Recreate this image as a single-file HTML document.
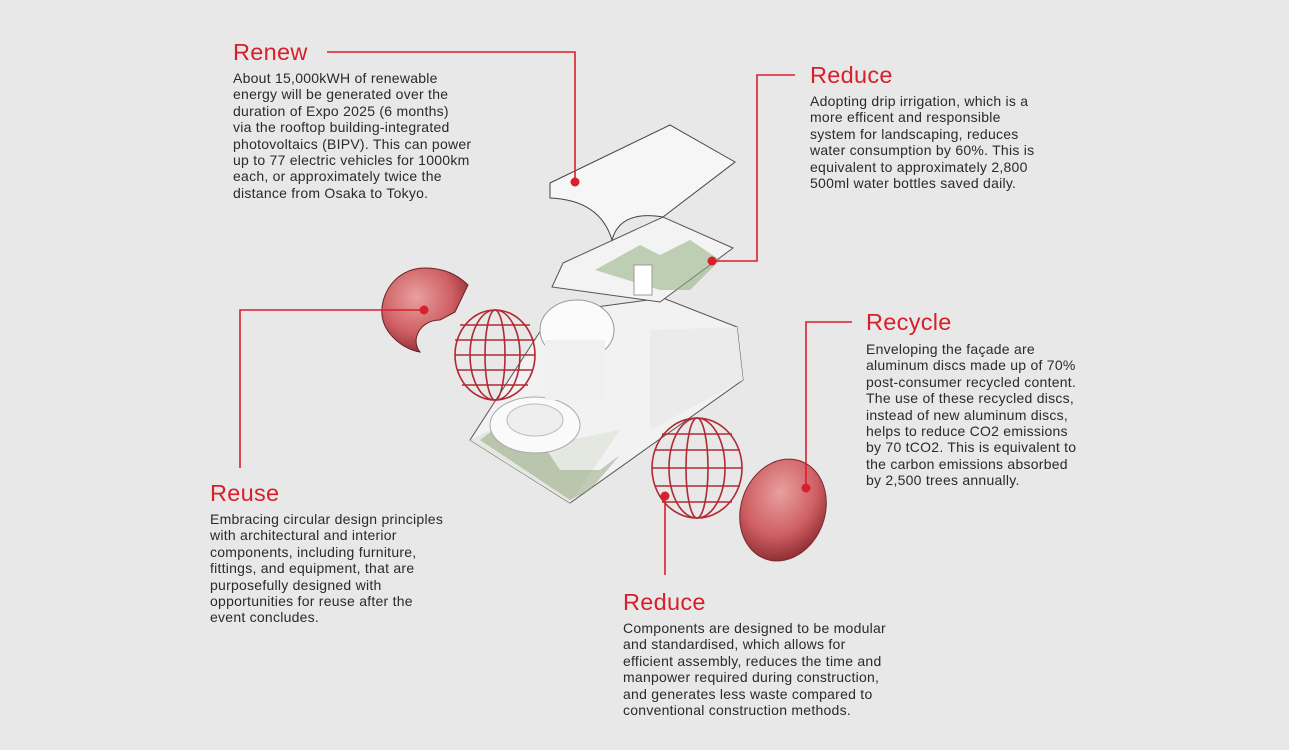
<!DOCTYPE html>
<html><head><meta charset="utf-8"><style>
html,body{margin:0;padding:0}
body{width:1289px;height:750px;background:#e8e8e8;position:relative;overflow:hidden;font-family:"Liberation Sans",sans-serif;color:#222}
.t{position:absolute;color:#d7202b;font-size:23.5px;line-height:24px;letter-spacing:0.3px}
.b{position:absolute;font-size:14px;line-height:16.4px;color:#2a2a2a;letter-spacing:0.25px;white-space:nowrap}
svg{position:absolute;left:0;top:0}
</style></head><body>
<svg width="1289" height="750" viewBox="0 0 1289 750">
<defs>
<radialGradient id="sp" cx="40%" cy="35%" r="70%"><stop offset="0" stop-color="#e8a0a0"/><stop offset="0.6" stop-color="#cf5f63"/><stop offset="1" stop-color="#8a2b30"/></radialGradient>
</defs>
<polygon points="470,440 552,313 663,298 737,327 743,380 570,503" fill="#f2f2f2" stroke="#555" stroke-width="1"/>
<polygon points="470,440 552,400 570,440 620,430 570,503" fill="#e4e8e0"/>
<path d="M480,440 L520,410 L560,470 L600,470 L620,455 L590,490 L570,500Z" fill="#8fa27a" opacity="0.5"/>
<polygon points="650,330 737,327 743,380 650,430" fill="#ebebeb"/>
<ellipse cx="535" cy="425" rx="45" ry="28" fill="#fafafa" stroke="#aaa"/>
<ellipse cx="535" cy="420" rx="28" ry="16" fill="#eee" stroke="#bbb"/>
<ellipse cx="577" cy="330" rx="37" ry="30" fill="#fbfbfb" stroke="#999"/>
<rect x="545" y="340" width="60" height="60" fill="#f0f0f0"/>
<polygon points="563,263 663,217 733,248 660,302 552,287" fill="#f3f3f3" stroke="#555" stroke-width="1"/>
<path d="M595,270 L640,245 L660,255 L690,240 L720,260 L690,290 L660,290Z" fill="#8fae7c" opacity="0.55"/>
<rect x="634" y="265" width="18" height="30" fill="#fff" stroke="#999"/>
<path d="M550,183 L670,125 L735,162 L663,217 Q620,210 612,240 Q600,200 550,198Z" fill="#f6f6f6" stroke="#444" stroke-width="1"/>
<path d="M425,268 C395,268 380,295 382,315 C384,335 405,350 420,352 C410,340 420,320 440,320 L455,312 L468,285 C455,272 440,268 425,268Z" fill="url(#sp)" stroke="#6a2025"/>
<g fill="none" stroke="#b02a33" stroke-width="1.6">
<ellipse cx="495" cy="355" rx="40" ry="45"/>
<ellipse cx="495" cy="355" rx="25" ry="45"/><ellipse cx="495" cy="355" rx="10" ry="45"/>
<line x1="455" y1="340" x2="535" y2="340"/><line x1="455" y1="355" x2="535" y2="355"/><line x1="457" y1="370" x2="533" y2="370"/><line x1="462" y1="385" x2="528" y2="385"/><line x1="460" y1="325" x2="530" y2="325"/>
<ellipse cx="697" cy="468" rx="45" ry="50"/>
<ellipse cx="697" cy="468" rx="28" ry="50"/><ellipse cx="697" cy="468" rx="11" ry="50"/>
<line x1="655" y1="450" x2="740" y2="450"/><line x1="652" y1="468" x2="742" y2="468"/><line x1="655" y1="486" x2="740" y2="486"/><line x1="662" y1="502" x2="732" y2="502"/><line x1="662" y1="434" x2="732" y2="434"/>
</g>
<ellipse cx="783" cy="510" rx="42" ry="52" transform="rotate(20 783 510)" fill="url(#sp)" stroke="#7a2a2f"/>
<g fill="none" stroke="#d7202b" stroke-width="1.6">
<polyline points="327,52 575,52 575,182"/>
<polyline points="795,75 757,75 757,261 712,261"/>
<polyline points="852,322 806,322 806,488"/>
<polyline points="424,310 240,310 240,468"/>
<polyline points="665,496 665,575"/>
</g>
<g fill="#d7202b"><circle cx="575" cy="182" r="4.5"/><circle cx="712" cy="261" r="4.5"/><circle cx="806" cy="488" r="4.5"/><circle cx="424" cy="310" r="4.5"/><circle cx="665" cy="496" r="4.5"/></g>
</svg>
<div class="t" style="left:233px;top:40px">Renew</div>
<div class="b" style="left:233px;top:70px">About 15,000kWH of renewable<br>energy will be generated over the<br>duration of Expo 2025 (6 months)<br>via the rooftop building-integrated<br>photovoltaics (BIPV). This can power<br>up to 77 electric vehicles for 1000km<br>each, or approximately twice the<br>distance from Osaka to Tokyo.</div>
<div class="t" style="left:810px;top:63px">Reduce</div>
<div class="b" style="left:810px;top:93px">Adopting drip irrigation, which is a<br>more efficent and responsible<br>system for landscaping, reduces<br>water consumption by 60%. This is<br>equivalent to approximately 2,800<br>500ml water bottles saved daily.</div>
<div class="t" style="left:866px;top:310px">Recycle</div>
<div class="b" style="left:866px;top:341px">Enveloping the façade are<br>aluminum discs made up of 70%<br>post-consumer recycled content.<br>The use of these recycled discs,<br>instead of new aluminum discs,<br>helps to reduce CO2 emissions<br>by 70 tCO2. This is equivalent to<br>the carbon emissions absorbed<br>by 2,500 trees annually.</div>
<div class="t" style="left:210px;top:481px">Reuse</div>
<div class="b" style="left:210px;top:511px">Embracing circular design principles<br>with architectural and interior<br>components, including furniture,<br>fittings, and equipment, that are<br>purposefully designed with<br>opportunities for reuse after the<br>event concludes.</div>
<div class="t" style="left:623px;top:590px">Reduce</div>
<div class="b" style="left:623px;top:620px">Components are designed to be modular<br>and standardised, which allows for<br>efficient assembly, reduces the time and<br>manpower required during construction,<br>and generates less waste compared to<br>conventional construction methods.</div>
</body></html>
